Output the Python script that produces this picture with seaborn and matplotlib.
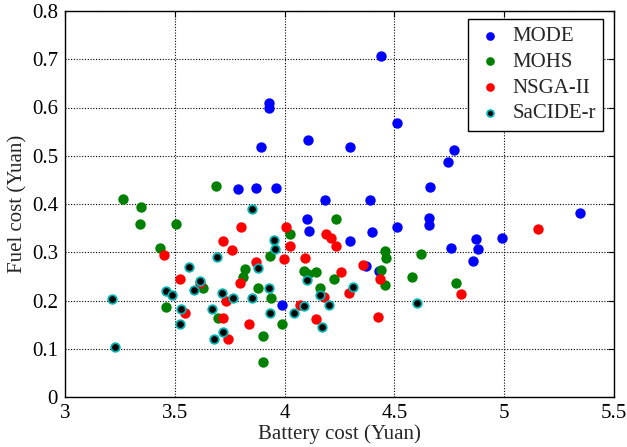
import matplotlib
matplotlib.use("Agg")
import matplotlib.pyplot as plt
import seaborn as sns
import pandas as pd

mode_x = [4.438, 3.93, 3.928, 4.108, 4.514, 3.893, 4.30, 4.77, 4.745, 4.66, 3.788, 3.872, 3.963,
          4.183, 4.39, 5.346, 4.657, 4.657, 4.511, 4.10, 4.11, 4.397, 4.30, 4.872, 4.88, 4.99,
          4.76, 4.857, 4.37, 4.43, 3.987]
mode_y = [0.707, 0.61, 0.599, 0.533, 0.567, 0.518, 0.518, 0.511, 0.488, 0.435, 0.431, 0.434, 0.434,
          0.408, 0.408, 0.381, 0.372, 0.356, 0.353, 0.369, 0.345, 0.341, 0.324, 0.328, 0.307, 0.33,
          0.309, 0.282, 0.272, 0.261, 0.19]

mohs_x = [3.686, 3.264, 3.345, 3.342, 3.506, 3.431, 3.46, 4.025, 3.818, 3.81, 3.88, 3.932, 3.94,
          3.63, 3.697, 3.90, 3.90, 3.987, 4.09, 4.106, 4.145, 4.162, 4.225, 4.235, 4.455, 4.462,
          4.623, 4.438, 4.457, 4.578, 4.78]
mohs_y = [0.437, 0.41, 0.393, 0.358, 0.358, 0.309, 0.187, 0.338, 0.265, 0.249, 0.226, 0.293, 0.205,
          0.225, 0.163, 0.127, 0.0725, 0.151, 0.262, 0.254, 0.26, 0.226, 0.244, 0.369, 0.302, 0.288,
          0.297, 0.263, 0.233, 0.249, 0.236]

nsga_x = [3.45, 3.524, 3.615, 3.545, 3.732, 3.72, 3.80, 3.76, 3.869, 3.796, 3.718, 3.744, 3.837,
          4.005, 4.025, 3.998, 4.095, 4.07, 4.142, 4.181, 4.187, 4.21, 4.235, 4.256, 4.295, 4.356,
          4.435, 4.427, 4.804, 5.153]
nsga_y = [0.295, 0.244, 0.237, 0.174, 0.198, 0.324, 0.353, 0.305, 0.28, 0.237, 0.163, 0.12, 0.151,
          0.353, 0.312, 0.286, 0.288, 0.19, 0.162, 0.207, 0.337, 0.329, 0.312, 0.26, 0.215, 0.274,
          0.244, 0.166, 0.214, 0.349]

sac_x = [3.214, 3.229, 3.462, 3.487, 3.53, 3.524, 3.563, 3.586, 3.616, 3.69, 3.715, 3.767, 3.67,
         3.72, 3.679, 3.853, 3.879, 3.95, 3.958, 3.85, 3.93, 3.932, 4.045, 4.089, 4.10, 4.171,
         4.159, 4.204, 4.31, 4.602]
sac_y = [0.203, 0.103, 0.219, 0.211, 0.182, 0.151, 0.269, 0.221, 0.241, 0.291, 0.215, 0.206, 0.182,
         0.135, 0.12, 0.39, 0.268, 0.326, 0.307, 0.206, 0.226, 0.174, 0.174, 0.189, 0.242, 0.146,
         0.212, 0.19, 0.227, 0.195]

x_ticks = [3, 3.5, 4, 4.5, 5, 5.5]
x_tick_labels = ["3", "3.5", "4", "4.5", "5", "5.5"]
y_ticks = [0, 0.1, 0.2, 0.3, 0.4, 0.5, 0.6, 0.7, 0.8]
y_tick_labels = ["0", "0.1", "0.2", "0.3", "0.4", "0.5", "0.6", "0.7", "0.8"]

sns.set_style("white")
plt.rcParams['font.family'] = ['Liberation Serif', 'DejaVu Serif']

fig = plt.figure(figsize=(6.27, 4.47), dpi=100)
ax = fig.add_axes([65/627, 1-397/447, (614-65)/627, (397-11)/447])

series = [
    ("MODE", mode_x, mode_y, "#0000ff", "#0000ff"),
    ("MOHS", mohs_x, mohs_y, "#008000", "#008000"),
    ("NSGA-II", nsga_x, nsga_y, "#ff0000", "#ff0000"),
    ("SaCIDE-r", sac_x, sac_y, "#000000", "#00b4b4"),
]
for name, xs, ys, fc, ec in series:
    df = pd.DataFrame({"x": xs, "y": ys})
    sns.scatterplot(data=df, x="x", y="y", ax=ax, color=fc, edgecolor=ec,
                    linewidth=1.3, s=38, label=name, zorder=3)

ax.set_xlim(3, 5.5)
ax.set_ylim(0, 0.8)
ax.set_xticks(x_ticks)
ax.set_xticklabels(x_tick_labels)
ax.set_yticks(y_ticks)
ax.set_yticklabels(y_tick_labels)
ax.tick_params(direction="in", length=4, width=0.8, labelsize=15, colors="black",
               top=True, right=True, pad=5)
ax.grid(True, color="black", linestyle=(0, (1, 1.5)), linewidth=0.8)
for sp in ax.spines.values():
    sp.set_color("black")
    sp.set_linewidth(1.0)
ax.set_xlabel("Battery cost (Yuan)", fontsize=15, labelpad=1)
ax.set_ylabel("Fuel cost (Yuan)", fontsize=15, labelpad=3)

leg = ax.legend(loc="upper right", bbox_to_anchor=(0.98, 0.979), fontsize=15,
                frameon=True, fancybox=False, framealpha=1, edgecolor="black",
                borderpad=0.35, labelspacing=0.3, handletextpad=0.35, handlelength=1.4,
                borderaxespad=0, markerscale=0.8)
leg.get_frame().set_linewidth(1.0)

fig.savefig("out.png", dpi=100)
